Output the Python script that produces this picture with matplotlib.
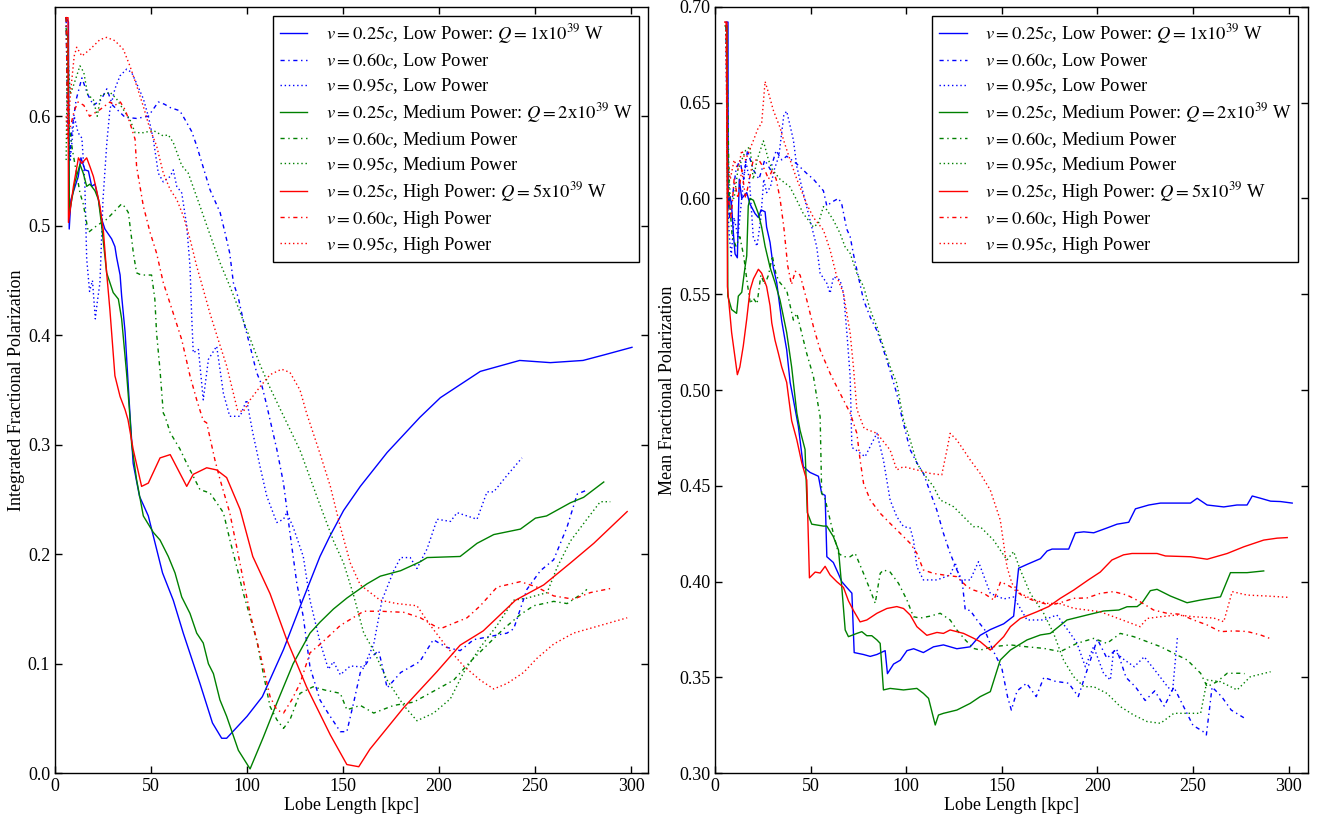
import matplotlib
matplotlib.use("Agg")
import matplotlib.pyplot as plt

plt.rcParams['font.family'] = 'serif'
plt.rcParams['font.serif'] = ['Liberation Serif', 'DejaVu Serif']
plt.rcParams['mathtext.fontset'] = 'stix'

# ---------------- LEFT PANEL: Integrated Fractional Polarization ----------------
lb25_x = [5.8, 7.0, 7.4, 8.3, 12.1, 13.5, 15.6, 17.4, 19.1, 20.8, 22.6, 24.3, 26.0, 29.5, 31.2, 32.1, 33.9, 34.7, 36.5, 39.0, 40.7, 44.0, 48.6, 56.0, 61.6, 66.8, 75.5, 82.0, 86.8, 89.4, 100.0, 108.0, 119.0, 127.6, 138.0, 143.0, 150.3, 159.0, 173.0, 190.0, 200.7, 221.5, 242.0, 258.0, 275.0, 285.8, 300.5]
lb25_y = [0.690, 0.686, 0.497, 0.524, 0.545, 0.562, 0.551, 0.550, 0.536, 0.538, 0.524, 0.506, 0.497, 0.488, 0.481, 0.471, 0.455, 0.436, 0.403, 0.329, 0.283, 0.253, 0.235, 0.183, 0.158, 0.128, 0.082, 0.046, 0.032, 0.032, 0.052, 0.070, 0.113, 0.152, 0.198, 0.216, 0.240, 0.262, 0.293, 0.325, 0.343, 0.367, 0.377, 0.375, 0.377, 0.382, 0.389]

lb60_x = [5.8, 6.6, 7.5, 9, 11, 14, 17, 20, 24, 27, 30, 33, 36.5, 42.5, 48.6, 53.8, 57, 59.9, 65, 67.7, 71.2, 73.8, 76.4, 80.7, 86, 88.5, 91, 92.9, 95.5, 98, 101.6, 105, 107.6, 110, 115.5, 119, 122.4, 125.9, 129.3, 132.8, 138, 142.2, 148.6, 152, 155.6, 159, 164, 168.6, 173, 180, 190, 197, 204, 211, 218, 226.7, 235.4, 238.9, 245.8, 252.8, 259.7, 266.7, 272, 276.2]
lb60_y = [0.690, 0.600, 0.560, 0.590, 0.615, 0.635, 0.620, 0.610, 0.615, 0.625, 0.610, 0.605, 0.599, 0.598, 0.600, 0.613, 0.611, 0.608, 0.605, 0.597, 0.586, 0.573, 0.558, 0.533, 0.512, 0.494, 0.475, 0.448, 0.434, 0.414, 0.390, 0.366, 0.355, 0.338, 0.296, 0.265, 0.219, 0.174, 0.143, 0.097, 0.067, 0.055, 0.038, 0.038, 0.065, 0.092, 0.105, 0.112, 0.078, 0.092, 0.102, 0.122, 0.115, 0.112, 0.122, 0.125, 0.128, 0.132, 0.168, 0.185, 0.195, 0.225, 0.255, 0.258]

lb95_x = [5.8, 6.5, 8, 10, 12, 14, 15.5, 16.5, 18, 19.5, 21, 22, 23.4, 25, 27, 28.6, 31.2, 33.9, 37.3, 39.9, 42.5, 46, 48.6, 51.2, 53.8, 56.4, 60, 61.6, 63.4, 66, 68.6, 70.3, 71.2, 72, 74.7, 76.4, 77.2, 79.9, 84.2, 87.7, 91, 96.4, 99.8, 103, 106.8, 110.3, 115.5, 119, 120.7, 124, 129.3, 132.8, 138, 142.4, 145, 148.6, 153.8, 160.8, 166, 170.3, 176.4, 180, 185, 188.5, 193.8, 199, 206, 209.4, 219.8, 225, 228.5, 235.4, 243.2]
lb95_y = [0.690, 0.600, 0.560, 0.600, 0.585, 0.580, 0.540, 0.470, 0.440, 0.450, 0.415, 0.430, 0.448, 0.524, 0.576, 0.606, 0.625, 0.637, 0.643, 0.640, 0.630, 0.616, 0.600, 0.579, 0.548, 0.540, 0.545, 0.551, 0.536, 0.530, 0.500, 0.463, 0.417, 0.384, 0.387, 0.356, 0.341, 0.378, 0.390, 0.347, 0.326, 0.326, 0.341, 0.311, 0.280, 0.253, 0.229, 0.232, 0.238, 0.225, 0.198, 0.158, 0.120, 0.095, 0.102, 0.090, 0.098, 0.097, 0.118, 0.158, 0.185, 0.197, 0.197, 0.187, 0.205, 0.232, 0.230, 0.238, 0.232, 0.257, 0.257, 0.272, 0.288]

lg25_x = [5.8, 6.8, 7.5, 10.4, 13, 14.7, 16.5, 18.2, 20.8, 22.6, 24.3, 26.9, 30.3, 33, 34.7, 37.3, 39, 39.9, 42.5, 46, 51.2, 54.7, 59, 62.5, 66, 70.3, 73.8, 77.2, 79.9, 82.5, 85.9, 89.4, 95.5, 101.6, 108.5, 115.5, 124, 132.8, 138, 145, 152, 162.5, 169.4, 180, 190, 193.8, 211, 219.8, 228.5, 242.4, 250.2, 256, 268.4, 275.3, 285.8]
lg25_y = [0.680, 0.670, 0.512, 0.540, 0.556, 0.548, 0.536, 0.538, 0.532, 0.524, 0.500, 0.457, 0.439, 0.433, 0.415, 0.365, 0.326, 0.301, 0.268, 0.235, 0.220, 0.213, 0.198, 0.183, 0.161, 0.146, 0.128, 0.119, 0.100, 0.091, 0.067, 0.052, 0.021, 0.004, 0.033, 0.064, 0.100, 0.128, 0.138, 0.150, 0.160, 0.173, 0.180, 0.185, 0.193, 0.197, 0.198, 0.210, 0.218, 0.223, 0.233, 0.235, 0.247, 0.252, 0.266]

lg60_x = [5.8, 6.5, 7.5, 9, 11, 13, 14.7, 17.4, 21.7, 27, 30.3, 34.7, 36.5, 38.2, 40, 40.8, 42.5, 44.9, 50.3, 52, 52.9, 54.7, 56.4, 57.3, 60, 65.1, 68.6, 71.2, 75.5, 80.7, 84.2, 87.7, 91.1, 94.6, 98, 101.6, 105, 108.5, 112, 115.5, 119, 122.4, 127.6, 134.4, 140.6, 148.6, 152, 159, 166, 176.4, 186.8, 197.2, 207.6, 216.3, 225, 233.7, 242.4, 249.3, 259.7, 266.7, 275.3, 277]
lg60_y = [0.690, 0.620, 0.590, 0.570, 0.550, 0.530, 0.520, 0.494, 0.500, 0.506, 0.512, 0.520, 0.517, 0.512, 0.487, 0.475, 0.457, 0.455, 0.455, 0.433, 0.402, 0.368, 0.329, 0.326, 0.311, 0.296, 0.283, 0.274, 0.259, 0.256, 0.247, 0.238, 0.213, 0.189, 0.165, 0.143, 0.122, 0.091, 0.061, 0.049, 0.041, 0.049, 0.073, 0.079, 0.076, 0.073, 0.058, 0.062, 0.055, 0.062, 0.065, 0.075, 0.085, 0.102, 0.117, 0.132, 0.145, 0.153, 0.157, 0.155, 0.165, 0.168]

lg95_x = [5.8, 6.5, 8, 10, 13, 15, 17, 20, 22, 24, 26, 28.6, 32, 35.6, 39, 41.7, 46, 51.2, 56.4, 59, 61.6, 66, 69.4, 75.5, 80.7, 86, 91, 96.4, 101.6, 106.8, 112, 118, 127.6, 138, 145.1, 150.3, 155.6, 160.8, 166, 173, 181.6, 188.5, 197.2, 205.9, 212.8, 221.5, 230.2, 238.9, 245.8, 256.3, 261.5, 268.4, 277, 284, 289.2]
lg95_y = [0.560, 0.660, 0.620, 0.630, 0.646, 0.640, 0.620, 0.615, 0.600, 0.620, 0.620, 0.622, 0.616, 0.606, 0.597, 0.585, 0.585, 0.587, 0.582, 0.583, 0.576, 0.555, 0.548, 0.518, 0.492, 0.466, 0.445, 0.421, 0.397, 0.373, 0.352, 0.330, 0.295, 0.245, 0.212, 0.192, 0.162, 0.128, 0.112, 0.085, 0.062, 0.048, 0.055, 0.068, 0.092, 0.115, 0.135, 0.158, 0.160, 0.165, 0.188, 0.212, 0.232, 0.248, 0.248]

lr25_x = [5.6, 6.8, 7.0, 9.6, 12.2, 13.9, 16.5, 18.2, 20.0, 21.7, 23.4, 25.2, 26.9, 28.6, 31.2, 33.9, 36.5, 38.0, 40.7, 45.1, 48.6, 54.7, 60.0, 68.6, 72.0, 79.0, 84.2, 89.4, 96.4, 103.0, 112.0, 120.7, 131.0, 143.4, 152.0, 158.2, 164.0, 181.6, 199.0, 211.0, 223.0, 239.8, 254.5, 268.4, 280.6, 298.0]
lr25_y = [0.690, 0.690, 0.503, 0.536, 0.562, 0.557, 0.562, 0.554, 0.545, 0.532, 0.518, 0.495, 0.457, 0.423, 0.363, 0.344, 0.332, 0.323, 0.296, 0.262, 0.265, 0.288, 0.291, 0.262, 0.273, 0.279, 0.277, 0.270, 0.241, 0.198, 0.164, 0.122, 0.079, 0.035, 0.008, 0.006, 0.022, 0.060, 0.093, 0.117, 0.130, 0.158, 0.172, 0.192, 0.210, 0.239]

lr60_x = [5.8, 6.5, 8, 10, 12, 15, 18, 23.4, 28.6, 31.2, 34, 36.5, 39, 41.7, 42.5, 46, 49.5, 52.9, 56.4, 61.6, 66, 70.3, 73.8, 77.2, 79, 83.3, 86, 91, 94.6, 98, 101.6, 105, 108.5, 112, 115.5, 119, 123.3, 127.6, 132.8, 138.2, 148.6, 160.8, 169.4, 181.6, 190.3, 197.2, 200.7, 207.6, 214.6, 221.5, 230.2, 242.4, 251, 259.7, 270, 278.8, 290]
lr60_y = [0.690, 0.600, 0.590, 0.605, 0.613, 0.610, 0.600, 0.606, 0.613, 0.610, 0.613, 0.606, 0.594, 0.579, 0.554, 0.518, 0.494, 0.475, 0.448, 0.420, 0.396, 0.363, 0.341, 0.322, 0.320, 0.286, 0.268, 0.238, 0.207, 0.177, 0.146, 0.122, 0.097, 0.070, 0.058, 0.055, 0.067, 0.082, 0.110, 0.118, 0.135, 0.148, 0.148, 0.147, 0.142, 0.135, 0.132, 0.137, 0.142, 0.153, 0.170, 0.175, 0.170, 0.162, 0.159, 0.165, 0.169]

lr95_x = [5.8, 6.5, 8, 10, 11.3, 14, 18.2, 23.4, 26.9, 31.2, 35.6, 39, 42.5, 46, 49.5, 52.9, 56.4, 60, 63.4, 66.8, 70.3, 73.8, 77.2, 80.7, 85, 89.4, 92.9, 95, 98, 101.6, 106.8, 112, 118, 122.4, 127.6, 131, 138, 143.4, 148.6, 153.8, 159, 169.4, 178, 188.5, 195.5, 204.2, 212.8, 221.5, 228.5, 235.4, 244, 251, 259.7, 270, 284, 298]
lr95_y = [0.600, 0.580, 0.620, 0.655, 0.663, 0.655, 0.661, 0.670, 0.672, 0.669, 0.661, 0.646, 0.628, 0.609, 0.588, 0.573, 0.548, 0.533, 0.524, 0.509, 0.488, 0.463, 0.442, 0.420, 0.396, 0.372, 0.347, 0.332, 0.330, 0.341, 0.353, 0.364, 0.369, 0.366, 0.350, 0.329, 0.292, 0.262, 0.225, 0.192, 0.172, 0.158, 0.155, 0.153, 0.135, 0.115, 0.098, 0.085, 0.077, 0.082, 0.092, 0.105, 0.118, 0.128, 0.135, 0.142]

# ---------------- RIGHT PANEL: Mean Fractional Polarization ----------------
rb25_x = [5.8, 6.8, 6.9, 7.9, 8.7, 9.6, 10.5, 11.7, 12.7, 14, 16.6, 18.3, 21, 22.7, 24.1, 26.2, 27, 28.8, 30.5, 32.3, 33.2, 34.9, 37.5, 39.3, 41, 43.6, 46.2, 49.7, 54.1, 55.8, 57.6, 58.5, 61.9, 64.6, 66.3, 68.9, 71.6, 72.8, 77.6, 81.2, 84.7, 89, 90.2, 93.4, 96.9, 100.4, 103.9, 109, 114.3, 119.5, 126.5, 133.5, 138.7, 144, 151, 156.2, 158.8, 163.2, 170.2, 173.7, 176.3, 185, 188.5, 192.9, 198.1, 205, 210.3, 216.4, 219.9, 226.9, 233, 240, 248.7, 252.2, 257.4, 266.1, 273, 278.3, 281, 285.4, 290.6, 295.8, 301.9]
rb25_y = [0.692, 0.692, 0.596, 0.601, 0.596, 0.582, 0.571, 0.569, 0.610, 0.600, 0.603, 0.597, 0.592, 0.590, 0.594, 0.593, 0.585, 0.577, 0.564, 0.556, 0.549, 0.536, 0.521, 0.504, 0.495, 0.481, 0.460, 0.457, 0.455, 0.446, 0.445, 0.413, 0.410, 0.404, 0.400, 0.397, 0.394, 0.363, 0.362, 0.361, 0.362, 0.364, 0.352, 0.357, 0.359, 0.364, 0.365, 0.363, 0.366, 0.367, 0.365, 0.366, 0.372, 0.375, 0.378, 0.382, 0.407, 0.409, 0.412, 0.416, 0.417, 0.417, 0.4255, 0.426, 0.4255, 0.428, 0.430, 0.431, 0.438, 0.440, 0.441, 0.441, 0.441, 0.4435, 0.440, 0.439, 0.440, 0.440, 0.4447, 0.4435, 0.442, 0.4418, 0.441]

rb60_x = [5.8, 6.5, 7.5, 9, 11, 13, 15, 17, 20, 23, 26, 29, 32, 35, 37.5, 42.8, 48, 51.5, 53.2, 56.7, 58.5, 61, 64.6, 66.3, 68.9, 70.7, 72.4, 75, 77.7, 81.2, 84.7, 88.1, 91.6, 95.1, 97.7, 102, 105.6, 109, 116, 119.5, 123, 126.5, 129.2, 130.9, 133.5, 137, 141, 145, 150, 153, 155, 158, 163, 168, 172, 178, 185, 190, 195, 200, 205, 210, 215, 220, 225, 230, 235, 240, 245, 250, 255, 257, 260, 265, 270, 276.6]
rb60_y = [0.690, 0.610, 0.590, 0.600, 0.615, 0.620, 0.610, 0.625, 0.615, 0.610, 0.620, 0.615, 0.625, 0.620, 0.622, 0.618, 0.613, 0.610, 0.608, 0.604, 0.596, 0.598, 0.600, 0.597, 0.584, 0.580, 0.571, 0.559, 0.547, 0.538, 0.531, 0.521, 0.510, 0.498, 0.486, 0.469, 0.462, 0.4565, 0.4374, 0.4252, 0.4148, 0.4061, 0.4009, 0.3852, 0.385, 0.380, 0.375, 0.365, 0.355, 0.340, 0.333, 0.343, 0.347, 0.340, 0.350, 0.348, 0.347, 0.340, 0.355, 0.370, 0.360, 0.365, 0.350, 0.345, 0.338, 0.343, 0.335, 0.345, 0.335, 0.325, 0.322, 0.320, 0.345, 0.340, 0.333, 0.329]

rb95_x = [5.8, 6.5, 7.5, 8.5, 10, 12, 14, 16, 18, 20, 22, 24, 25.5, 27, 29, 31, 33.4, 36, 37.5, 41, 42.8, 46.2, 49.7, 53.2, 55, 58.5, 60.2, 62, 65.4, 67.2, 69, 70.7, 71.6, 73.3, 78.5, 82, 84.7, 88.1, 91.6, 95.1, 98.6, 102.1, 103.8, 105.6, 109, 116.1, 123, 125.7, 128.3, 133.5, 137.8, 144, 151, 156.2, 163.2, 171.9, 178.8, 185.8, 189.3, 193.7, 198, 203.3, 206.8, 208.5, 213, 219.3, 224.5, 231.5, 236.7, 239.3, 241.9]
rb95_y = [0.690, 0.600, 0.580, 0.570, 0.590, 0.580, 0.600, 0.620, 0.610, 0.580, 0.575, 0.590, 0.610, 0.603, 0.606, 0.615, 0.622, 0.6435, 0.6455, 0.6305, 0.6165, 0.6026, 0.5887, 0.5748, 0.5609, 0.5557, 0.5505, 0.5591, 0.5574, 0.5505, 0.5296, 0.507, 0.470, 0.469, 0.4652, 0.4722, 0.4774, 0.4635, 0.4426, 0.4339, 0.4287, 0.428, 0.4217, 0.4078, 0.4009, 0.4009, 0.4035, 0.4096, 0.4009, 0.4009, 0.4104, 0.3939, 0.391, 0.392, 0.380, 0.380, 0.3826, 0.373, 0.368, 0.3556, 0.3661, 0.352, 0.3487, 0.3643, 0.360, 0.3556, 0.3608, 0.352, 0.3452, 0.3426, 0.3713]

rg25_x = [5.3, 6.3, 6.7, 8.7, 11.3, 12.2, 14, 15.7, 16.6, 17.4, 18.3, 20.1, 22.7, 24.4, 26.2, 28.8, 31.4, 34, 37.5, 40.1, 42.8, 44.5, 47.1, 48.3, 50.6, 56.7, 58.5, 61.9, 64.6, 66.3, 68.1, 69.8, 74.2, 76.8, 79.4, 82, 84.7, 86.4, 88.1, 91.6, 98.6, 105.6, 109, 111.7, 115.2, 116.9, 119.5, 126.5, 133.5, 138.7, 144, 149.2, 154.5, 163.2, 170.2, 175.4, 184.1, 194.6, 203.3, 211.2, 215.5, 220.8, 223.4, 227.7, 231.2, 238.2, 246.9, 253.9, 264.4, 269.6, 278.3, 287]
rg25_y = [0.690, 0.690, 0.549, 0.542, 0.540, 0.549, 0.551, 0.564, 0.570, 0.596, 0.600, 0.599, 0.592, 0.585, 0.575, 0.564, 0.556, 0.547, 0.530, 0.512, 0.488, 0.479, 0.469, 0.436, 0.430, 0.429, 0.429, 0.4235, 0.4165, 0.3974, 0.3748, 0.3713, 0.373, 0.3739, 0.3718, 0.3718, 0.3696, 0.3678, 0.3435, 0.3443, 0.3435, 0.3443, 0.3417, 0.3391, 0.3252, 0.3304, 0.3313, 0.333, 0.3365, 0.340, 0.3426, 0.3591, 0.3643, 0.3696, 0.3722, 0.373, 0.380, 0.3826, 0.3847, 0.3852, 0.3869, 0.387, 0.389, 0.3953, 0.396, 0.3925, 0.389, 0.3904, 0.3921, 0.4047, 0.4047, 0.4056]

rg60_x = [5.8, 6.5, 7.5, 9, 11, 13, 15, 17, 18.5, 20, 22, 24, 26, 28, 30, 32, 34, 37.5, 41, 42.8, 48, 51.5, 53.2, 55, 55.8, 57.6, 61.9, 64.6, 67.2, 70.7, 73.3, 77.7, 81.2, 83.8, 86.4, 88.1, 91.6, 96, 100.4, 103.8, 107.3, 112.5, 117.8, 123, 126.5, 130.9, 135.2, 138.7, 145.7, 154.5, 163.2, 171.9, 180.6, 189.3, 198.1, 205, 212, 219, 226, 233, 240, 247, 254, 257.4, 262.6, 267.9, 274.8, 277]
rg60_y = [0.690, 0.660, 0.600, 0.580, 0.575, 0.580, 0.570, 0.555, 0.545, 0.548, 0.545, 0.560, 0.555, 0.560, 0.570, 0.560, 0.556, 0.552, 0.5365, 0.540, 0.519, 0.507, 0.4965, 0.486, 0.4461, 0.443, 0.4252, 0.4148, 0.413, 0.413, 0.4148, 0.4043, 0.3956, 0.3887, 0.4043, 0.4061, 0.405, 0.3991, 0.3904, 0.3817, 0.381, 0.382, 0.3835, 0.380, 0.3748, 0.3696, 0.3652, 0.3643, 0.3661, 0.367, 0.366, 0.3652, 0.3635, 0.3678, 0.3704, 0.3678, 0.373, 0.3713, 0.3687, 0.3661, 0.3626, 0.3591, 0.3522, 0.3452, 0.3478, 0.3522, 0.3522, 0.352]

rg95_x = [5.8, 6.5, 8, 10, 12, 14, 16, 18.3, 20, 22, 25.3, 28, 30, 34, 39.2, 42.8, 46.2, 48.8, 51.5, 54.1, 56.7, 58.5, 61.9, 65.4, 68, 70.7, 74.2, 77.7, 81.2, 84.7, 88.1, 91.6, 95.1, 98.6, 102.1, 105.6, 109, 114.3, 117.8, 121.3, 124.8, 130, 135.2, 138.7, 145.7, 152.7, 156.2, 159.7, 164.9, 171.9, 177.1, 182.3, 187.6, 192.9, 198.1, 205, 212, 219, 226, 233, 240, 247, 254, 257.4, 264.4, 273.1, 280, 290.6]
rg95_y = [0.690, 0.630, 0.600, 0.600, 0.615, 0.620, 0.625, 0.627, 0.610, 0.620, 0.630, 0.620, 0.615, 0.610, 0.606, 0.599, 0.592, 0.5887, 0.585, 0.587, 0.5957, 0.594, 0.5887, 0.5818, 0.5748, 0.5713, 0.5609, 0.554, 0.5417, 0.533, 0.5226, 0.5122, 0.5035, 0.4843, 0.4739, 0.4617, 0.4565, 0.4496, 0.4426, 0.4409, 0.4391, 0.4339, 0.4287, 0.4287, 0.4217, 0.4113, 0.4157, 0.4061, 0.3939, 0.3835, 0.373, 0.3591, 0.3504, 0.3452, 0.3452, 0.3417, 0.3348, 0.3304, 0.327, 0.3261, 0.3313, 0.3313, 0.3313, 0.3487, 0.3478, 0.3435, 0.3504, 0.353]

rr25_x = [5.1, 6.2, 6.5, 8.7, 11.7, 13, 14.8, 16.6, 18.3, 20.1, 22.7, 24.4, 27, 28.8, 29.7, 31.4, 33.2, 34.9, 37.5, 38.4, 40.1, 42.8, 45.4, 47.1, 48, 49.4, 52.4, 55, 57.6, 60.2, 63.7, 67.2, 69.8, 72.4, 75.9, 79.4, 84.7, 89.9, 95.1, 98.6, 102.1, 105.6, 110.8, 116.1, 119.5, 123, 130, 135.2, 138.7, 144, 151, 154.5, 159.7, 168.4, 174.5, 180.6, 187.6, 195.4, 201.5, 207.6, 213.7, 218.1, 231.2, 235.6, 248.7, 257.4, 267.9, 276.6, 287, 294, 299.3]
rr25_y = [0.692, 0.692, 0.554, 0.530, 0.508, 0.512, 0.523, 0.537, 0.552, 0.558, 0.563, 0.561, 0.554, 0.544, 0.535, 0.526, 0.519, 0.512, 0.504, 0.497, 0.484, 0.474, 0.462, 0.456, 0.453, 0.402, 0.405, 0.4045, 0.408, 0.4035, 0.400, 0.397, 0.390, 0.385, 0.379, 0.380, 0.3835, 0.386, 0.387, 0.386, 0.3826, 0.3765, 0.372, 0.3735, 0.373, 0.3748, 0.373, 0.3705, 0.3687, 0.3643, 0.3713, 0.3765, 0.3808, 0.3843, 0.387, 0.3913, 0.3956, 0.401, 0.405, 0.4113, 0.414, 0.4147, 0.4147, 0.4134, 0.413, 0.4117, 0.4147, 0.4182, 0.4217, 0.4227, 0.423]

rr60_x = [5.8, 6.3, 7, 8.5, 10, 12, 14, 16, 18, 20, 23, 26, 28, 30, 32, 34, 36, 38, 40, 42, 44.5, 48, 51.5, 55, 60.2, 63.7, 67.2, 70.7, 74.2, 75.9, 77.7, 81.2, 86.4, 91.6, 96.9, 102.1, 105.6, 109, 114.3, 119.5, 126.5, 131.8, 135.3, 140.6, 145.9, 149.4, 154.5, 161.5, 168.4, 175.4, 180.6, 187.6, 194.6, 201.5, 208.5, 215.5, 222.4, 229.4, 236.4, 243.3, 250.3, 257.4, 264.4, 271.3, 278.3, 285.3, 291.5]
rr60_y = [0.692, 0.620, 0.600, 0.590, 0.610, 0.600, 0.615, 0.600, 0.610, 0.620, 0.620, 0.615, 0.610, 0.615, 0.610, 0.600, 0.585, 0.565, 0.555, 0.562, 0.560, 0.547, 0.533, 0.5209, 0.5087, 0.5017, 0.4948, 0.488, 0.4774, 0.4635, 0.4513, 0.4426, 0.4357, 0.4304, 0.4252, 0.420, 0.4148, 0.4061, 0.4043, 0.4035, 0.4026, 0.3974, 0.3956, 0.3939, 0.3904, 0.400, 0.3974, 0.3921, 0.3895, 0.3878, 0.389, 0.3913, 0.3915, 0.3939, 0.3948, 0.393, 0.3895, 0.3852, 0.3835, 0.383, 0.380, 0.3774, 0.3739, 0.3743, 0.374, 0.3722, 0.3699]

rr95_x = [5.8, 6.5, 8, 10, 12, 14, 16, 18, 20, 22.7, 24.4, 26.2, 28, 30.5, 34, 36, 39.3, 42.8, 48, 51.5, 56.7, 60.2, 63.7, 67.2, 70.7, 72.4, 74.2, 78, 84.7, 91.6, 95.1, 98.6, 105.6, 112.5, 118.6, 121.3, 123, 126.5, 133.5, 138.7, 144, 149.2, 152.7, 155.3, 159.7, 166.7, 173.7, 180.6, 187.6, 194.6, 201.5, 208.5, 215.5, 222.4, 226, 233, 241.7, 250.5, 260.9, 266.1, 270.5, 278.3, 288.8, 300.1]
rr95_y = [0.690, 0.620, 0.610, 0.620, 0.615, 0.625, 0.620, 0.625, 0.630, 0.637, 0.639, 0.661, 0.655, 0.646, 0.637, 0.630, 0.620, 0.610, 0.597, 0.590, 0.5835, 0.5731, 0.5591, 0.5505, 0.5296, 0.5122, 0.490, 0.480, 0.4774, 0.4687, 0.4583, 0.460, 0.4583, 0.4565, 0.4557, 0.4687, 0.4774, 0.4739, 0.4635, 0.4565, 0.4478, 0.4322, 0.4078, 0.3991, 0.3939, 0.3904, 0.3887, 0.3885, 0.3861, 0.3852, 0.3843, 0.3817, 0.3791, 0.3765, 0.3808, 0.3817, 0.3826, 0.3817, 0.381, 0.3791, 0.3948, 0.393, 0.3925, 0.3918]

labels = [
    r'$v = 0.25c$, Low Power: $Q = 1$x$10^{39}$ W',
    r'$v = 0.60c$, Low Power',
    r'$v = 0.95c$, Low Power',
    r'$v = 0.25c$, Medium Power: $Q = 2$x$10^{39}$ W',
    r'$v = 0.60c$, Medium Power',
    r'$v = 0.95c$, Medium Power',
    r'$v = 0.25c$, High Power: $Q = 5$x$10^{39}$ W',
    r'$v = 0.60c$, High Power',
    r'$v = 0.95c$, High Power',
]

colors = ['#0000ff', '#0000ff', '#0000ff', '#008000', '#008000', '#008000', '#ff0000', '#ff0000', '#ff0000']
dash_solid = '-'
dash_dashdot = (0, (3.0, 2.6, 1.0, 2.6))
dash_dotted = (0, (1.0, 2.0))
styles = [dash_solid, dash_dashdot, dash_dotted] * 3

left_series = [(lb25_x, lb25_y), (lb60_x, lb60_y), (lb95_x, lb95_y),
               (lg25_x, lg25_y), (lg60_x, lg60_y), (lg95_x, lg95_y),
               (lr25_x, lr25_y), (lr60_x, lr60_y), (lr95_x, lr95_y)]
right_series = [(rb25_x, rb25_y), (rb60_x, rb60_y), (rb95_x, rb95_y),
                (rg25_x, rg25_y), (rg60_x, rg60_y), (rg95_x, rg95_y),
                (rr25_x, rr25_y), (rr60_x, rr60_y), (rr95_x, rr95_y)]

fig = plt.figure(figsize=(13.27, 8.21), dpi=100)
axL = fig.add_axes([0.04145, 0.0581, 0.4471, 0.9337])
axR = fig.add_axes([0.5388, 0.0581, 0.44665, 0.9337])

for ax, series in ((axL, left_series), (axR, right_series)):
    for (x, y), c, ls, lab in zip(series, colors, styles, labels):
        ax.plot(x, y, color=c, linestyle=ls, linewidth=1.0, label=lab)
    ax.set_xticks([0, 50, 100, 150, 200, 250, 300])
    ax.tick_params(direction='in', top=True, right=True, labelsize=13, length=5, width=1)
    ax.set_xlabel('Lobe Length [kpc]', fontsize=13, labelpad=1)
    leg = ax.legend(loc='upper right', fontsize=13.3, fancybox=False, framealpha=1,
                    edgecolor='black', handlelength=1.5, handletextpad=1.0,
                    borderpad=0.35, labelspacing=0.27, borderaxespad=0.5)
    leg.get_frame().set_linewidth(1.0)
    for s in ax.spines.values():
        s.set_linewidth(1.0)

axL.set_xlim(0, 309)
axL.set_ylim(0.0, 0.70)
axL.set_yticks([0.0, 0.1, 0.2, 0.3, 0.4, 0.5, 0.6])
axL.set_yticklabels(['0.0', '0.1', '0.2', '0.3', '0.4', '0.5', '0.6'])
axL.set_ylabel('Integrated Fractional Polarization', fontsize=13, labelpad=2)

axR.set_xlim(0, 310)
axR.set_ylim(0.30, 0.70)
axR.set_yticks([0.30, 0.35, 0.40, 0.45, 0.50, 0.55, 0.60, 0.65, 0.70])
axR.set_yticklabels(['0.30', '0.35', '0.40', '0.45', '0.50', '0.55', '0.60', '0.65', '0.70'])
axR.set_ylabel('Mean Fractional Polarization', fontsize=13, labelpad=2)

fig.savefig('out.png', dpi=100)
